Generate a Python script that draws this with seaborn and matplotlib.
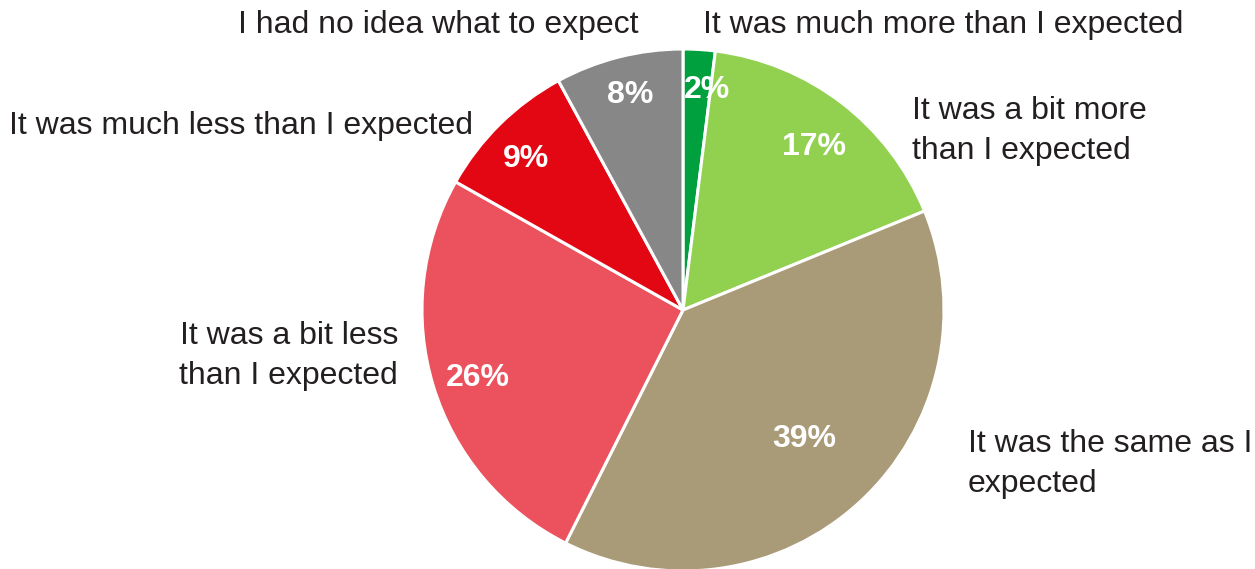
import numpy as np
import matplotlib
matplotlib.use("Agg")
import matplotlib.pyplot as plt
import seaborn as sns

# Survey answers, clockwise from 12 o'clock
categories = [
    "It was much more than I expected",
    "It was a bit more\nthan I expected",
    "It was the same as I\nexpected",
    "It was a bit less\nthan I expected",
    "It was much less than I expected",
    "I had no idea what to expect",
]
shares = [2, 17, 39, 26, 9, 8]
pct_labels = [f"{v}%" for v in shares]
colors = ["#00a03e", "#92d050", "#a99a78", "#eb525e", "#e30613", "#878787"]

sns.set_theme(style="white")
plt.rcParams["font.family"] = ["Liberation Sans", "DejaVu Sans"]

W, H = 1255, 569
fig = plt.figure(figsize=(W / 100, H / 100), dpi=100)
ax = fig.add_axes([0, 0, 1, 1])

cx, cy, R = 683, H - 310, 261
wedges, _ = ax.pie(
    shares,
    colors=colors,
    startangle=90,
    counterclock=False,
    center=(cx, cy),
    radius=R,
    wedgeprops=dict(edgecolor="white", linewidth=2.2),
)
ax.set_xlim(0, W)
ax.set_ylim(0, H)
ax.set_aspect("equal")
ax.set_axis_off()

# percentage labels inside the wedges
pct_radius = [0.86, 0.81, 0.67, 0.825, 0.84, 0.86]
pct_shift = [-2.6, -1.0, 1.0, 0.5, 1.0, -0.6]
for w, txt, rf, sh in zip(wedges, pct_labels, pct_radius, pct_shift):
    ang = np.deg2rad((w.theta1 + w.theta2) / 2 + sh)
    ax.text(cx + rf * R * np.cos(ang), cy + rf * R * np.sin(ang) - 3, txt,
            ha="center", va="center", color="white", fontsize=23,
            fontweight="bold")

# category labels around the pie
label_pos = [
    (703, 25, "left"),
    (912, 131, "left"),
    (968, 464, "left"),
    (398, 356, "right"),
    (473, 126, "right"),
    (638, 25, "right"),
]
for name, (x, y, ha) in zip(categories, label_pos):
    ax.text(x, H - y, name, ha=ha, va="center", color="#231f20",
            fontsize=23, linespacing=1.42)

fig.savefig("out.png", dpi=100)
